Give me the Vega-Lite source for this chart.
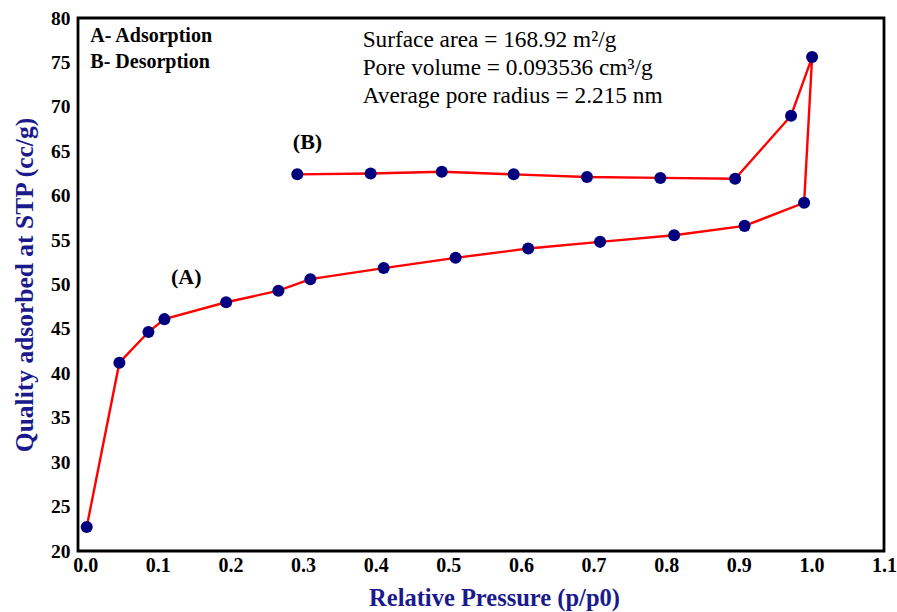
{
  "$schema": "https://vega.github.io/schema/vega-lite/v6.json",
  "autosize": {"type": "none"},
  "width": 806,
  "height": 533,
  "padding": {"left": 78, "top": 18, "right": 13, "bottom": 61},
  "background": "white",
  "config": {
    "font": "Liberation Serif",
    "view": {"stroke": "black", "strokeWidth": 2.8}
  },
  "datasets": {
    "iso": [
      {"seq": 1, "branch": "A", "p": 0.002, "q": 22.7},
      {"seq": 2, "branch": "A", "p": 0.047, "q": 41.2},
      {"seq": 3, "branch": "A", "p": 0.087, "q": 44.65},
      {"seq": 4, "branch": "A", "p": 0.109, "q": 46.1},
      {"seq": 5, "branch": "A", "p": 0.194, "q": 48.0},
      {"seq": 6, "branch": "A", "p": 0.266, "q": 49.3},
      {"seq": 7, "branch": "A", "p": 0.31, "q": 50.6},
      {"seq": 8, "branch": "A", "p": 0.411, "q": 51.85},
      {"seq": 9, "branch": "A", "p": 0.51, "q": 53.0},
      {"seq": 10, "branch": "A", "p": 0.61, "q": 54.05},
      {"seq": 11, "branch": "A", "p": 0.709, "q": 54.8},
      {"seq": 12, "branch": "A", "p": 0.811, "q": 55.55},
      {"seq": 13, "branch": "A", "p": 0.908, "q": 56.6},
      {"seq": 14, "branch": "A", "p": 0.99, "q": 59.2},
      {"seq": 15, "branch": "A", "p": 1.001, "q": 75.6},
      {"seq": 16, "branch": "B", "p": 0.972, "q": 69.0},
      {"seq": 17, "branch": "B", "p": 0.895, "q": 61.9},
      {"seq": 18, "branch": "B", "p": 0.792, "q": 62.0},
      {"seq": 19, "branch": "B", "p": 0.691, "q": 62.1},
      {"seq": 20, "branch": "B", "p": 0.59, "q": 62.4},
      {"seq": 21, "branch": "B", "p": 0.491, "q": 62.7},
      {"seq": 22, "branch": "B", "p": 0.393, "q": 62.5},
      {"seq": 23, "branch": "B", "p": 0.292, "q": 62.4}
    ],
    "boldnotes": [
      {"p": 0.007, "q": 78.0, "label": "A- Adsorption"},
      {"p": 0.007, "q": 75.05, "label": "B- Desorption"}
    ],
    "infonotes": [
      {"p": 0.382, "q": 77.5, "label": "Surface area = 168.92 m²/g"},
      {"p": 0.382, "q": 74.4, "label": "Pore volume = 0.093536 cm³/g"},
      {"p": 0.382, "q": 71.2, "label": "Average pore radius = 2.215 nm"}
    ],
    "curvelabels": [
      {"p": 0.306, "q": 66.0, "label": "(B)"},
      {"p": 0.139, "q": 50.8, "label": "(A)"}
    ]
  },
  "encoding": {
    "x": {
      "field": "p",
      "type": "quantitative",
      "scale": {"domain": [-0.01, 1.1], "nice": false, "zero": false},
      "axis": {
        "title": "Relative Pressure (p/p0)",
        "values": [0, 0.1, 0.2, 0.3, 0.4, 0.5, 0.6, 0.7, 0.8, 0.9, 1.0, 1.1],
        "format": ".1f",
        "grid": false,
        "ticks": false,
        "domain": false,
        "labelFont": "Liberation Serif",
        "labelFontSize": 20,
        "labelFontWeight": "bold",
        "labelColor": "black",
        "labelPadding": 4,
        "labelFlush": false,
        "titleFont": "Liberation Serif",
        "titleFontSize": 24.5,
        "titleFontWeight": "bold",
        "titleColor": "#1a1a8c",
        "titlePadding": 11,
        "titleX": 416
      }
    },
    "y": {
      "field": "q",
      "type": "quantitative",
      "scale": {"domain": [20, 80], "nice": false, "zero": false},
      "axis": {
        "title": "Quality adsorbed at STP (cc/g)",
        "values": [20, 25, 30, 35, 40, 45, 50, 55, 60, 65, 70, 75, 80],
        "grid": false,
        "ticks": false,
        "domain": false,
        "labelFont": "Liberation Serif",
        "labelFontSize": 19.5,
        "labelFontWeight": "bold",
        "labelColor": "black",
        "labelPadding": 8,
        "labelFlush": false,
        "titleFont": "Liberation Serif",
        "titleFontSize": 25.5,
        "titleFontWeight": "bold",
        "titleColor": "#1a1a8c",
        "titlePadding": 13
      }
    }
  },
  "layer": [
    {
      "data": {"name": "iso"},
      "mark": {"type": "line", "color": "#ff0000", "strokeWidth": 2.4},
      "encoding": {"order": {"field": "seq", "type": "quantitative"}}
    },
    {
      "data": {"name": "iso"},
      "mark": {"type": "point", "filled": true, "color": "#00007f", "opacity": 1, "size": 145}
    },
    {
      "data": {"name": "boldnotes"},
      "mark": {"type": "text", "align": "left", "baseline": "middle", "font": "Liberation Serif", "fontSize": 20, "fontWeight": "bold", "color": "black"},
      "encoding": {"text": {"field": "label"}}
    },
    {
      "data": {"name": "infonotes"},
      "mark": {"type": "text", "align": "left", "baseline": "middle", "font": "Liberation Serif", "fontSize": 23.3, "color": "black"},
      "encoding": {"text": {"field": "label"}}
    },
    {
      "data": {"name": "curvelabels"},
      "mark": {"type": "text", "align": "center", "baseline": "middle", "font": "Liberation Serif", "fontSize": 22, "fontWeight": "bold", "color": "black"},
      "encoding": {"text": {"field": "label"}}
    }
  ]
}
